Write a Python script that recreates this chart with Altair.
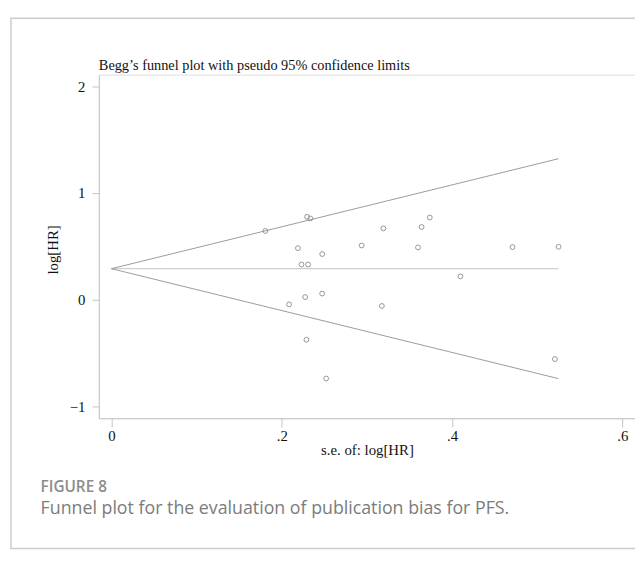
import altair as alt
import pandas as pd

# ---- data ----
se = [0.1808, 0.2298, 0.2336, 0.2190, 0.2232, 0.2310, 0.2275, 0.2086, 0.2290,
      0.2475, 0.2939, 0.3194, 0.3739, 0.3643, 0.3600, 0.4710, 0.5251, 0.4099,
      0.2475, 0.3176, 0.2522, 0.5208]
loghr = [0.644, 0.776, 0.761, 0.483, 0.330, 0.330, 0.025, -0.043, -0.374,
         0.428, 0.508, 0.668, 0.770, 0.681, 0.490, 0.493, 0.496, 0.219,
         0.058, -0.058, -0.737, -0.555]
pooled = 0.291
funnel_se = [0.0, 0.525]
upper = [0.291, 1.320]
lower = [0.291, -0.738]

x_ticks = [0, 0.2, 0.4, 0.6]
y_ticks = [-1, 0, 1, 2]

title_text = "Begg\u2019s funnel plot with pseudo 95% confidence limits"
x_title = "s.e. of: log[HR]"
y_title = "log[HR]"
fig_label = "FIGURE 8"
caption = "Funnel plot for the evaluation of publication bias for PFS."

# ---- layout ----
W, H = 543, 348
X_DOMAIN = [-0.0148, 0.6149]
Y_DOMAIN = [-1.109, 2.107]
SERIF = "Liberation Serif"
SANS = "Open Sans"
AXIS_GRAY = "#c4c4c4"

pts = pd.DataFrame({"se": se, "loghr": loghr})
fun = pd.DataFrame({"se": funnel_se * 2, "v": upper + lower,
                    "side": ["upper"] * 2 + ["lower"] * 2})
mid = pd.DataFrame({"se": funnel_se, "v": [pooled, pooled]})
one = pd.DataFrame({"a": [0]})

xs = alt.Scale(domain=X_DOMAIN, nice=False, zero=False)
ys = alt.Scale(domain=Y_DOMAIN, nice=False, zero=False)

x_axis = alt.Axis(
    values=x_ticks,
    labelExpr="datum.value == 0 ? '0' : replace(format(datum.value, '.1f'), '0.', '.')",
    grid=False, domainColor=AXIS_GRAY, tickColor=AXIS_GRAY, tickSize=9,
    labelFont=SERIF, labelFontSize=15, labelColor="#111", labelPadding=2,
    title=x_title, titleFont=SERIF, titleFontSize=15, titleFontWeight="normal",
    titleColor="#111", titleY=32, titleBaseline="middle",
)
y_axis = alt.Axis(
    values=y_ticks, format="d",
    grid=False, domainColor=AXIS_GRAY, tickColor=AXIS_GRAY, tickSize=7,
    labelFont=SERIF, labelFontSize=15, labelColor="#111", labelPadding=7,
    title=y_title, titleFont=SERIF, titleFontSize=15, titleFontWeight="normal",
    titleColor="#111", titleX=-47, titleY=H / 2 + 3, titleBaseline="middle",
    titleAngle=270,
)

border = alt.Chart(one).mark_rect(fill="transparent", stroke="#cccccc", strokeWidth=1.5).encode(
    x=alt.value(-89), x2=alt.value(600), y=alt.value(-57), y2=alt.value(480)
)

midline = alt.Chart(mid).mark_line(color="#cfcfcf", strokeWidth=1.2).encode(
    x=alt.X("se:Q", scale=xs, axis=x_axis),
    y=alt.Y("v:Q", scale=ys, axis=y_axis),
)

funnel = alt.Chart(fun).mark_line(color="#9a9a9a", strokeWidth=1).encode(
    x=alt.X("se:Q", scale=xs),
    y=alt.Y("v:Q", scale=ys),
    detail="side:N",
)

points = alt.Chart(pts).mark_point(shape="circle", filled=False, color="#8a8a8a",
                                   size=24, strokeWidth=0.9, opacity=1).encode(
    x=alt.X("se:Q", scale=xs),
    y=alt.Y("loghr:Q", scale=ys),
)

title = alt.Chart(one).mark_text(text=title_text, font=SERIF, fontSize=14.5,
                                 color="#111", align="left", baseline="middle").encode(
    x=alt.value(0), y=alt.value(-9)
)
figlab = alt.Chart(one).mark_text(text=fig_label, font=SANS, fontSize=15.5, fontWeight=600,
                                  color="#8c8c8c", align="left", baseline="middle").encode(
    x=alt.value(-59), y=alt.value(418)
)
cap = alt.Chart(one).mark_text(text=caption, font=SANS, fontSize=18,
                               color="#7c7c7c", align="left", baseline="middle").encode(
    x=alt.value(-59), y=alt.value(440)
)

chart = alt.layer(midline, border, funnel, points, title, figlab, cap).properties(
    width=W, height=H,
    autosize=alt.AutoSizeParams(type="none"),
    padding={"left": 92, "top": 64, "right": 0, "bottom": 136},
).configure_view(strokeWidth=0, stroke="transparent").configure(background="white")

chart.save("out.html", embed_options={"renderer": "svg", "actions": False})
